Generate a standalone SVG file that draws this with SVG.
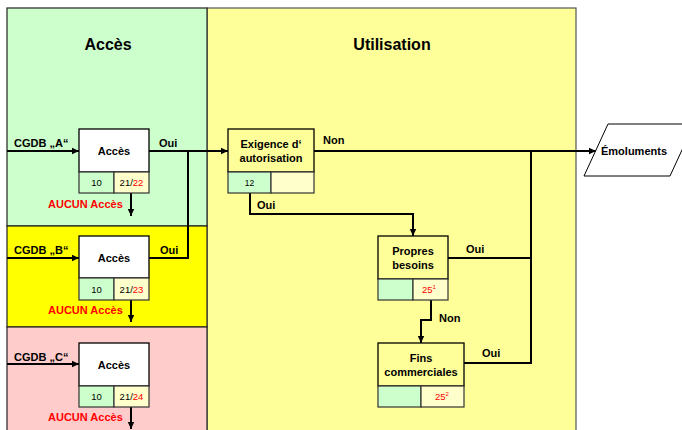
<svg xmlns="http://www.w3.org/2000/svg" width="682" height="430" viewBox="0 0 682 430">
<defs>
<marker id="ah" markerWidth="8" markerHeight="8" refX="7" refY="4" orient="auto" markerUnits="userSpaceOnUse">
<path d="M0,0.8 L7,4 L0,7.2 Z" fill="#000"/>
</marker>
<style>
text{font-family:"Liberation Sans",Arial,sans-serif;fill:#000}
.h{font-size:16px;font-weight:bold;text-anchor:middle}
.b{font-size:11px;font-weight:bold}
.bc{font-size:11px;font-weight:bold;text-anchor:middle}
.r{fill:#ff0000}
.n{font-size:9.5px;text-anchor:middle}
.box{stroke:#000;stroke-width:1.3}
.gc{fill:#ccffcc;stroke:#333;stroke-width:1.2}
.yc{fill:#ffffcc;stroke:#333;stroke-width:1.2}
.ln{fill:none;stroke:#000;stroke-width:2}
</style>
</defs>
<g id="lanes">
<rect x="207" y="8" width="369" height="430" fill="#ffff99" stroke="#555" stroke-width="1.2"/>
<rect x="7" y="8" width="200" height="218" fill="#ccffcc" stroke="#222" stroke-width="1.2"/>
<rect x="7" y="226" width="200" height="101" fill="#ffff00" stroke="#222" stroke-width="1.2"/>
<rect x="7" y="327" width="200" height="110" fill="#ffcccc" stroke="#222" stroke-width="1.2"/>
<text class="h" x="108" y="50">Accès</text>
<text class="h" x="392" y="50">Utilisation</text>
</g>
<g id="connectors">
<line class="ln" x1="7" y1="151" x2="79" y2="151" marker-end="url(#ah)"/>
<line class="ln" x1="7" y1="258" x2="79" y2="258" marker-end="url(#ah)"/>
<line class="ln" x1="7" y1="364" x2="79" y2="364" marker-end="url(#ah)"/>
<line class="ln" x1="149" y1="151" x2="228" y2="151" marker-end="url(#ah)"/>
<polyline class="ln" points="149,258 188,258 188,151"/>
<line class="ln" x1="131" y1="193" x2="131" y2="216" marker-end="url(#ah)"/>
<line class="ln" x1="131" y1="300" x2="131" y2="322" marker-end="url(#ah)"/>
<line class="ln" x1="131" y1="407" x2="131" y2="429" marker-end="url(#ah)"/>
<line class="ln" x1="314" y1="151" x2="596" y2="151" marker-end="url(#ah)"/>
<polyline class="ln" points="250,193 250,214 413,214 413,236" marker-end="url(#ah)"/>
<polyline class="ln" points="448,258 531,258"/>
<polyline class="ln" points="464,363 531,363 531,151"/>
<polyline class="ln" points="431,300 431,320 421,320 421,343" marker-end="url(#ah)"/>
<text class="b" x="14" y="147">CGDB „A“</text>
<text class="b" x="14" y="254">CGDB „B“</text>
<text class="b" x="14" y="361">CGDB „C“</text>
<text class="b" x="159" y="147">Oui</text>
<text class="b" x="160" y="254">Oui</text>
<text class="b r" x="48" y="208">AUCUN Accès</text>
<text class="b r" x="48" y="314">AUCUN Accès</text>
<text class="b r" x="48" y="421">AUCUN Accès</text>
<text class="b" x="323" y="144">Non</text>
<text class="b" x="257" y="209">Oui</text>
<text class="b" x="466" y="253">Oui</text>
<text class="b" x="439" y="322">Non</text>
<text class="b" x="482" y="357">Oui</text>
</g>
<g id="accesA">
<rect class="box" x="79" y="129" width="70" height="43" fill="#fff"/>
<rect class="gc" x="79" y="172" width="35" height="21"/>
<rect class="yc" x="114" y="172" width="35" height="21"/>
<text class="bc" x="114" y="155">Accès</text>
<text class="n" x="96.5" y="186">10</text>
<text class="n" x="131.5" y="186">21/<tspan class="r">22</tspan></text>
</g>
<g id="accesB">
<rect class="box" x="79" y="236" width="70" height="42" fill="#fff"/>
<rect class="gc" x="79" y="278" width="35" height="22"/>
<rect class="yc" x="114" y="278" width="35" height="22"/>
<text class="bc" x="114" y="262">Accès</text>
<text class="n" x="96.5" y="293">10</text>
<text class="n" x="131.5" y="293">21/<tspan class="r">23</tspan></text>
</g>
<g id="accesC">
<rect class="box" x="79" y="343" width="70" height="43" fill="#fff"/>
<rect class="gc" x="79" y="386" width="35" height="21"/>
<rect class="yc" x="114" y="386" width="35" height="21"/>
<text class="bc" x="114" y="369">Accès</text>
<text class="n" x="96.5" y="400">10</text>
<text class="n" x="131.5" y="400">21/<tspan class="r">24</tspan></text>
</g>
<g id="exigence">
<rect class="box" x="228" y="129" width="86" height="43" fill="#ffff99"/>
<rect class="gc" x="228" y="172" width="43" height="21"/>
<rect class="yc" x="271" y="172" width="43" height="21"/>
<text class="bc" x="271" y="148">Exigence d‘</text>
<text class="bc" x="271" y="162">autorisation</text>
<text class="n" x="249.5" y="186" style="font-size:8.5px">12</text>
</g>
<g id="propres">
<rect class="box" x="378" y="236" width="70" height="43" fill="#ffff99"/>
<rect class="gc" x="378" y="279" width="35" height="21"/>
<rect class="yc" x="413" y="279" width="35" height="21"/>
<text class="bc" x="413" y="255">Propres</text>
<text class="bc" x="413" y="269">besoins</text>
<text class="n r" x="429" y="293">25<tspan dy="-4" style="font-size:6px">1</tspan></text>
</g>
<g id="fins">
<rect class="box" x="378" y="343" width="86" height="43" fill="#ffff99"/>
<rect class="gc" x="378" y="386" width="43" height="21"/>
<rect class="yc" x="421" y="386" width="43" height="21"/>
<text class="bc" x="421" y="362">Fins</text>
<text class="bc" x="421" y="376">commerciales</text>
<text class="n r" x="442" y="400">25<tspan dy="-4" style="font-size:6px">2</tspan></text>
</g>
<g id="emoluments">
<polygon points="608,124 694,124 670,176 584,176" fill="#fff" stroke="#000" stroke-width="1"/>
<text class="b" x="601" y="155">Émoluments</text>
</g>
</svg>
